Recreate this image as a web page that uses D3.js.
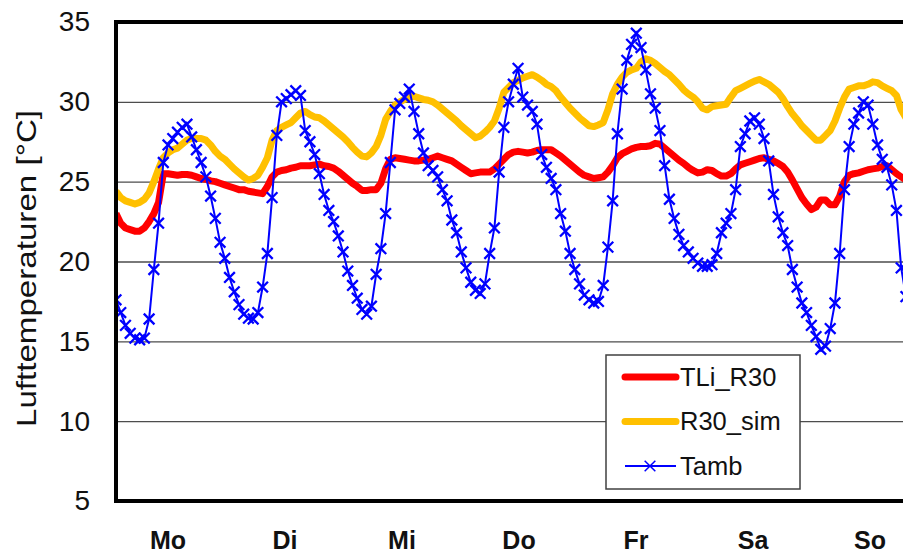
<!DOCTYPE html>
<html>
<head>
<meta charset="utf-8">
<script src="https://cdn.jsdelivr.net/npm/d3@7"></script>
<style>
  body { margin: 0; background: #fff; }
  text { font-family: "Liberation Sans", Arial, sans-serif; }
</style>
</head>
<body>
<script>
// hourly values over one week (hour 0 = Monday 00:00)
const days = ["Mo", "Di", "Mi", "Do", "Fr", "Sa", "So"];
const yTicks = [5, 10, 15, 20, 25, 30, 35];

const tli_r30 = [
  23.0, 22.4, 22.1, 22.0, 21.9, 21.9, 22.1, 22.5, 23.0, 23.7, 25.5, 25.5, 25.45, 25.4, 25.45, 25.45, 25.4, 25.3, 25.2, 25.15, 25.05, 25.0, 24.9, 24.8,
  24.7, 24.6, 24.5, 24.5, 24.4, 24.35, 24.3, 24.25, 24.7, 25.3, 25.6, 25.7, 25.75, 25.85, 25.9, 26.0, 26.0, 26.0, 26.05, 26.1, 26.0, 25.95, 25.85, 25.65,
  25.4, 25.15, 24.9, 24.7, 24.45, 24.45, 24.5, 24.5, 24.9, 25.8, 26.4, 26.5, 26.45, 26.4, 26.35, 26.3, 26.3, 26.35, 26.4, 26.5, 26.6, 26.5, 26.4, 26.3,
  26.1, 25.9, 25.7, 25.5, 25.55, 25.6, 25.6, 25.6, 25.8, 26.1, 26.4, 26.7, 26.85, 26.9, 26.85, 26.8, 26.85, 26.95, 27.0, 27.0, 27.0, 26.8, 26.6, 26.35,
  26.1, 25.85, 25.6, 25.4, 25.3, 25.2, 25.25, 25.3, 25.6, 26.0, 26.5, 26.75, 26.9, 27.05, 27.15, 27.2, 27.2, 27.25, 27.4, 27.35, 27.1, 26.85, 26.6, 26.35,
  26.15, 25.9, 25.7, 25.55, 25.6, 25.75, 25.7, 25.5, 25.35, 25.35, 25.5, 25.8, 26.05, 26.15, 26.25, 26.35, 26.45, 26.5, 26.4, 26.3, 26.15, 25.95, 25.6, 25.1,
  24.55, 24.0, 23.6, 23.25, 23.4, 23.85, 23.85, 23.55, 23.55, 24.1, 25.0, 25.4, 25.5, 25.55, 25.65, 25.75, 25.8, 25.85, 25.95, 26.0, 25.75, 25.5, 25.3, 25.1
];

const r30_sim = [
  24.4, 24.0, 23.8, 23.7, 23.6, 23.7, 23.9, 24.3, 25.0, 25.8, 26.5, 26.8, 27.0, 27.1, 27.35, 27.6, 27.7, 27.7, 27.7, 27.6, 27.3, 26.9, 26.6, 26.4,
  26.1, 25.8, 25.55, 25.3, 25.1, 25.2, 25.4, 25.9, 26.5, 27.6, 28.2, 28.4, 28.55, 28.7, 29.0, 29.3, 29.4, 29.2, 29.05, 29.0, 28.8, 28.55, 28.3, 28.05,
  27.8, 27.5, 27.15, 26.85, 26.6, 26.55, 26.8, 27.2, 27.9, 28.9, 29.4, 29.8, 30.0, 30.15, 30.3, 30.35, 30.25, 30.15, 30.1, 30.0, 29.8, 29.55, 29.3, 29.05,
  28.8, 28.5, 28.25, 28.0, 27.75, 27.85, 28.1, 28.4, 28.8, 29.6, 30.6, 30.9, 31.2, 31.35, 31.5, 31.6, 31.7, 31.55, 31.35, 31.1, 30.95, 30.7, 30.3, 29.95,
  29.6, 29.3, 29.0, 28.75, 28.5, 28.45, 28.55, 28.7, 29.5, 30.5, 31.1, 31.55, 31.85, 32.0, 32.1, 32.5, 32.7, 32.6, 32.4, 32.15, 31.9, 31.7, 31.4, 31.1,
  30.75, 30.5, 30.3, 30.0, 29.6, 29.5, 29.7, 29.75, 29.8, 29.85, 30.3, 30.7, 30.85, 31.0, 31.15, 31.3, 31.4, 31.25, 31.1, 30.85, 30.6, 30.2, 29.7, 29.25,
  28.9, 28.5, 28.2, 27.9, 27.6, 27.6, 27.9, 28.2, 28.8, 29.6, 30.3, 30.8, 30.9, 31.0, 31.0, 31.1, 31.25, 31.2, 31.0, 30.85, 30.7, 30.4, 29.5, 29.0
];

const tamb = [
  17.6, 16.8, 16.0, 15.5, 15.2, 15.1, 15.2, 16.4, 19.5, 22.4, 26.2, 27.3, 27.7, 28.1, 28.4, 28.6, 27.8, 27.0, 26.2, 25.3, 24.1, 22.7, 21.2, 20.2,
  19.0, 18.1, 17.3, 16.7, 16.45, 16.4, 16.8, 18.4, 20.5, 24.0, 27.9, 30.0, 30.2, 30.45, 30.7, 30.4, 28.2, 27.5, 26.7, 25.5, 24.2, 23.2, 22.5, 21.6,
  20.6, 19.4, 18.5, 17.7, 17.0, 16.7, 17.2, 19.2, 20.8, 23.0, 26.2, 29.5, 29.9, 30.3, 30.8, 29.4, 28.0, 26.8, 26.0, 25.7, 25.3, 24.5, 23.8, 22.6,
  21.8, 20.6, 19.6, 18.7, 18.2, 18.0, 18.6, 20.5, 22.1, 25.6, 28.4, 30.0, 31.1, 32.1, 30.3, 29.8, 29.4, 28.6, 26.7, 25.9, 25.2, 24.5, 23.0, 21.9,
  20.5, 19.5, 18.6, 17.9, 17.6, 17.4, 17.5, 18.5, 20.9, 23.8, 28.0, 30.8, 32.6, 33.6, 34.3, 33.4, 32.0, 30.5, 29.6, 28.2, 26.0, 23.9, 22.7, 21.7,
  21.0, 20.6, 20.2, 19.9, 19.7, 19.7, 19.8, 20.5, 21.8, 22.4, 23.0, 24.5, 27.2, 28.0, 28.8, 29.0, 28.6, 27.7, 26.3, 24.2, 22.8, 21.8, 21.0, 19.5,
  18.4, 17.4, 16.8, 16.0, 15.3, 14.5, 14.7, 15.8, 17.4, 20.5, 24.5, 27.2, 28.6, 29.3, 30.0, 29.8, 28.6, 27.3, 26.4, 25.9, 24.8, 23.2, 19.6, 17.8
];

const width = 903;
const height = 556;
const marginLeft = 116;
const marginTop = 22;
const plotBottom = 501;

const x = d3.scaleLinear()
  .domain([0, 168])
  .range([marginLeft, marginLeft + 168 * 4.73]);

const y = d3.scaleLinear()
  .domain([5, 35])
  .range([plotBottom, marginTop]);

const dayX = d3.scalePoint()
  .domain(days)
  .range([168, 870]);

const svg = d3.select("body")
  .append("svg")
  .attr("width", width)
  .attr("height", height)
  .attr("viewBox", [0, 0, width, height]);

// grid lines
svg.append("g")
  .attr("transform", `translate(${marginLeft},0)`)
  .call(d3.axisLeft(y).tickValues([10, 15, 20, 25, 30]).tickSize(-(width - marginLeft)).tickFormat(""))
  .call(g => g.select(".domain").remove())
  .call(g => g.selectAll(".tick line").attr("stroke", "#4d4d4d").attr("stroke-width", 1.4));

// y tick labels
svg.append("g")
  .attr("transform", `translate(${marginLeft},0)`)
  .call(d3.axisLeft(y).tickValues(yTicks).tickSize(0).tickPadding(26))
  .call(g => g.select(".domain").remove())
  .call(g => g.selectAll(".tick text")
    .attr("font-size", 28)
    .attr("fill", "#111")
    .attr("font-family", "Liberation Sans, Arial, sans-serif"));

// y title
svg.append("text")
  .attr("transform", `translate(36,${(110 + 427) / 2}) rotate(-90)`)
  .attr("text-anchor", "middle")
  .attr("font-size", 28)
  .attr("textLength", 317)
  .attr("lengthAdjust", "spacingAndGlyphs")
  .attr("fill", "#111")
  .text("Lufttemperaturen [°C]");

// series
svg.append("defs").append("clipPath")
  .attr("id", "clip")
  .append("rect")
  .attr("x", marginLeft)
  .attr("y", 0)
  .attr("width", width - marginLeft)
  .attr("height", height);

const chart = svg.append("g").attr("clip-path", "url(#clip)");

const line = d3.line()
  .x((d, i) => x(i))
  .y(d => y(d));

chart.append("path")
  .datum(tli_r30)
  .attr("fill", "none")
  .attr("stroke", "#ff0000")
  .attr("stroke-width", 7)
  .attr("stroke-linejoin", "round")
  .attr("d", line);

chart.append("path")
  .datum(r30_sim)
  .attr("fill", "none")
  .attr("stroke", "#ffc000")
  .attr("stroke-width", 7)
  .attr("stroke-linejoin", "round")
  .attr("d", line);

chart.append("path")
  .datum(tamb)
  .attr("fill", "none")
  .attr("stroke", "#0000ff")
  .attr("stroke-width", 2)
  .attr("d", line);

const cross = d3.symbol(d3.symbolX, 76);

chart.append("g")
  .selectAll("path")
  .data(tamb)
  .join("path")
  .attr("transform", (d, i) => `translate(${x(i)},${y(d)})`)
  .attr("d", cross)
  .attr("fill", "none")
  .attr("stroke", "#0000ff")
  .attr("stroke-width", 2.3);

// frame
svg.append("line")
  .attr("x1", marginLeft).attr("x2", width)
  .attr("y1", marginTop).attr("y2", marginTop)
  .attr("stroke", "#000").attr("stroke-width", 4);
svg.append("line")
  .attr("x1", marginLeft).attr("x2", width)
  .attr("y1", plotBottom).attr("y2", plotBottom)
  .attr("stroke", "#000").attr("stroke-width", 4);
svg.append("line")
  .attr("x1", marginLeft).attr("x2", marginLeft)
  .attr("y1", marginTop - 2).attr("y2", plotBottom + 2)
  .attr("stroke", "#000").attr("stroke-width", 4);

// day labels
svg.append("g")
  .selectAll("text")
  .data(days)
  .join("text")
  .attr("x", d => dayX(d))
  .attr("y", 549)
  .attr("text-anchor", "middle")
  .attr("font-size", 25)
  .attr("font-weight", "bold")
  .attr("fill", "#111")
  .text(d => d);

// legend
const legend = svg.append("g");
legend.append("rect")
  .attr("x", 606).attr("y", 355)
  .attr("width", 194).attr("height", 134)
  .attr("fill", "#fff")
  .attr("stroke", "#404040")
  .attr("stroke-width", 1.5);

const legendItems = [
  { name: "TLi_R30", color: "#ff0000", w: 7, marker: false },
  { name: "R30_sim", color: "#ffc000", w: 7, marker: false },
  { name: "Tamb", color: "#0000ff", w: 2, marker: true }
];

legendItems.forEach((it, i) => {
  const cy = 377 + i * 44.5;
  legend.append("line")
    .attr("x1", 625).attr("x2", 676)
    .attr("y1", cy).attr("y2", cy)
    .attr("stroke", it.color)
    .attr("stroke-width", it.w)
    .attr("stroke-linecap", it.marker ? "butt" : "round");
  if (it.marker) {
    legend.append("path")
      .attr("transform", `translate(650,${cy})`)
      .attr("d", cross)
      .attr("fill", "none")
      .attr("stroke", it.color)
      .attr("stroke-width", 1.5);
  }
  legend.append("text")
    .attr("x", 680)
    .attr("y", cy)
    .attr("dy", "0.35em")
    .attr("font-size", 25.5)
    .attr("fill", "#111")
    .text(it.name);
});
</script>
</body>
</html>
